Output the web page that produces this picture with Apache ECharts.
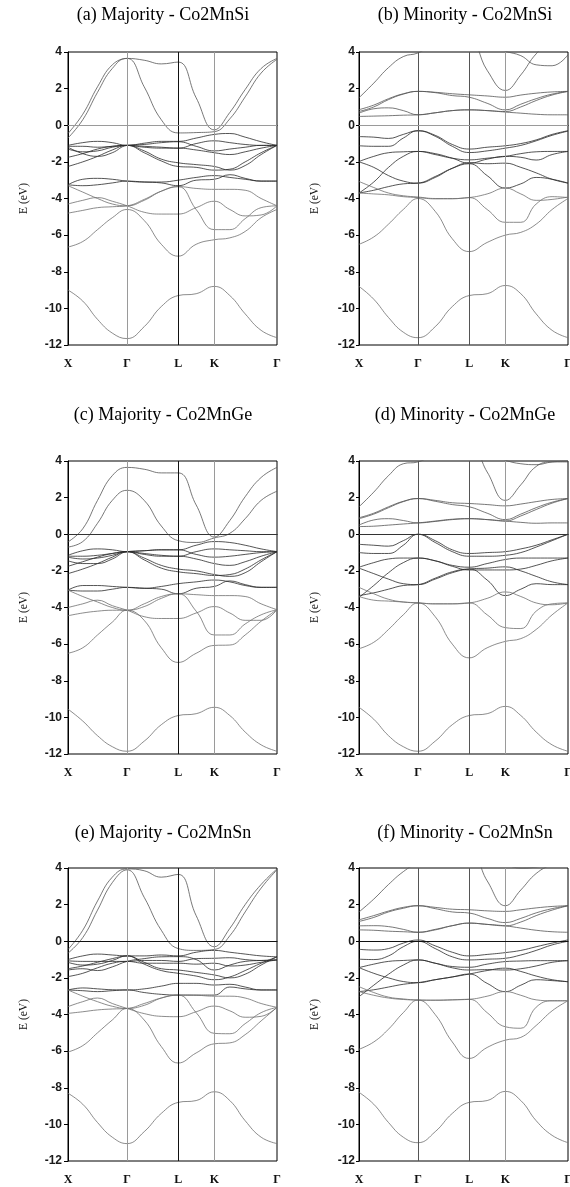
<!DOCTYPE html>
<html>
<head>
<meta charset="utf-8">
<script src="https://cdn.jsdelivr.net/npm/echarts@6/dist/echarts.min.js"></script>
<style>
  html, body { margin: 0; padding: 0; background: #fff; }
  #chart { width: 570px; height: 1187px; }
</style>
</head>
<body>
<div id="chart"></div>
<script>
// k-path sample positions (units of 2π/a): X–Γ–L–K–Γ
const kPath = [0, 0.25, 0.5, 0.75, 1, 1.29, 1.58, 1.866, 2.17, 2.478, 2.74, 3.0, 3.27, 3.539];
const kTickPos = [0, 1, 1.866, 2.478, 3.539];
const kTickLabels = ['X', 'Γ', 'L', 'K', 'Γ'];
const energyMin = -12, energyMax = 4, energyStep = 2;

// ---- Co2MnSi, majority spin (eV) ----
const siMajUpper = [
  [-0.7, 0.3, 1.8, 3.1, 3.65, 3.55, 3.35, 3.45, 1.5, -0.25, 0.7, 1.95, 3.1, 3.65],
  [-0.45, 0.6, 2.1, 3.3, 3.65, 2.1, 0.3, -0.42, -0.4, -0.35, 0.35, 1.55, 2.85, 3.6]
];
const siMajD = [
  [-1.1, -0.95, -0.88, -0.95, -1.1, -0.98, -0.88, -0.88, -0.7, -0.5, -0.45, -0.65, -0.9, -1.1],
  [-1.15, -1.15, -1.2, -1.15, -1.1, -1.15, -1.2, -1.25, -1.0, -0.85, -0.95, -1.05, -1.1, -1.1],
  [-1.3, -1.45, -1.4, -1.2, -1.1, -1.4, -1.85, -2.05, -2.15, -2.25, -2.45, -2.2, -1.6, -1.1],
  [-1.75, -1.55, -1.3, -1.15, -1.1, -1.5, -1.95, -2.25, -2.3, -2.45, -2.4, -2.0, -1.5, -1.1],
  [-2.25, -2.0, -1.7, -1.35, -1.1, -1.2, -1.25, -1.25, -1.35, -1.5, -1.6, -1.45, -1.25, -1.1],
  [-1.2, -1.55, -1.7, -1.5, -1.1, -1.05, -0.95, -0.9, -1.15, -1.4, -1.3, -1.2, -1.1, -1.1],
  [-3.25, -2.95, -2.9, -2.95, -3.05, -3.1, -3.1, -3.0, -2.85, -2.75, -2.85, -2.95, -3.05, -3.05],
  [-3.25, -3.3, -3.25, -3.15, -3.05, -3.1, -3.15, -3.3, -3.0, -2.95, -2.7, -2.9, -3.05, -3.05]
];
const siMajSP = [
  [-3.3, -3.65, -4.0, -4.3, -4.4, -4.1, -3.6, -3.35, -3.45, -3.5, -3.5, -3.55, -4.0, -4.4],
  [-4.3, -4.1, -3.95, -4.15, -4.4, -4.75, -4.85, -4.85, -4.5, -4.15, -4.6, -4.95, -4.9, -4.4],
  [-4.8, -4.65, -4.5, -4.45, -4.4, -4.05, -3.6, -3.35, -4.6, -5.7, -5.7, -5.1, -4.5, -4.4],
  [-6.65, -6.35, -5.7, -5.05, -4.6, -5.2, -6.5, -7.15, -6.5, -6.25, -6.15, -5.8, -5.05, -4.6],
  [-9.0, -9.6, -10.6, -11.35, -11.65, -11.0, -9.9, -9.3, -9.2, -8.8, -9.3, -10.3, -11.2, -11.6]
];

// ---- Co2MnSi, minority spin (eV) ----
const siMinUpper = [
  [1.5, 2.3, 3.15, 3.75, 3.95, 4.5, 4.9, 4.8, 3.0, 1.9, 2.75, 3.9, 4.6, 5.0],
  [5.0, 5.0, 5.0, 4.6, 4.3, 4.6, 5.0, 5.0, 4.5, 4.05, 3.8, 3.3, 3.25, 3.85],
  [0.85, 1.1, 1.45, 1.72, 1.85, 1.8, 1.72, 1.66, 1.6, 1.53, 1.65, 1.75, 1.82, 1.85],
  [0.75, 1.0, 1.4, 1.7, 1.85, 1.78, 1.62, 1.53, 1.2, 0.84, 1.15, 1.45, 1.7, 1.85],
  [0.66, 0.9, 0.95, 0.8, 0.57, 0.68, 0.8, 0.84, 0.8, 0.75, 1.0, 1.35, 1.65, 1.85],
  [0.48, 0.5, 0.52, 0.55, 0.57, 0.68, 0.8, 0.84, 0.8, 0.72, 0.66, 0.6, 0.57, 0.57]
];
const siMinD = [
  [-0.62, -0.65, -0.72, -0.5, -0.3, -0.55, -1.05, -1.3, -1.2, -1.12, -1.0, -0.8, -0.5, -0.3],
  [-1.12, -1.15, -1.15, -0.7, -0.3, -0.6, -1.15, -1.49, -1.4, -1.25, -1.1, -0.85, -0.55, -0.32],
  [-1.98, -1.7, -1.5, -1.45, -1.43, -1.6, -1.8, -1.89, -1.8, -1.7, -1.55, -1.45, -1.43, -1.43],
  [-2.0, -2.3, -2.75, -3.05, -3.16, -2.85, -2.35, -2.05, -2.1, -2.07, -2.3, -2.6, -2.95, -3.16],
  [-3.7, -3.1, -2.3, -1.7, -1.43, -1.55, -1.8, -2.07, -1.85, -1.7, -1.75, -1.9, -1.6, -1.43],
  [-3.7, -3.55, -3.35, -3.2, -3.16, -2.8, -2.35, -2.1, -2.75, -3.43, -3.2, -2.85, -2.95, -3.16]
];
const siMinSP = [
  [-3.07, -3.4, -3.7, -3.85, -3.92, -4.0, -4.0, -3.95, -3.75, -3.43, -3.75, -4.1, -4.05, -3.92],
  [-3.7, -3.75, -3.8, -3.9, -3.95, -4.02, -4.02, -3.95, -4.6, -5.3, -5.3, -4.3, -3.9, -3.95],
  [-6.5, -6.1, -5.4, -4.6, -4.0, -4.7, -6.2, -6.9, -6.4, -6.0, -5.85, -5.4, -4.6, -4.0],
  [-8.8, -9.5, -10.5, -11.3, -11.6, -11.0, -9.9, -9.3, -9.2, -8.75, -9.2, -10.3, -11.2, -11.6]
];

// ---- Co2MnGe, majority spin (eV) ----
const geMajUpper = [
  [-0.42, 0.3, 1.85, 3.2, 3.65, 3.55, 3.35, 3.35, 1.6, -0.15, 0.75, 2.05, 3.1, 3.65],
  [-0.7, -0.4, 0.6, 1.85, 2.4, 1.85, 0.45, -0.35, -0.45, -0.2, 0.05, 0.85, 1.85, 2.35]
];
const geMajD = [
  [-1.15, -0.9, -0.8, -0.85, -0.95, -0.9, -0.85, -0.85, -0.6, -0.4, -0.45, -0.6, -0.8, -0.95],
  [-1.2, -1.2, -1.15, -1.05, -0.95, -1.05, -1.15, -1.2, -0.95, -0.8, -0.85, -0.9, -0.95, -0.95],
  [-1.25, -1.35, -1.3, -1.15, -0.95, -1.3, -1.7, -1.9, -2.0, -2.2, -2.3, -2.1, -1.5, -0.95],
  [-1.75, -1.5, -1.25, -1.05, -0.95, -1.4, -1.85, -2.05, -2.15, -2.25, -2.2, -1.9, -1.4, -0.95],
  [-2.15, -1.9, -1.6, -1.25, -0.95, -1.1, -1.2, -1.2, -1.35, -1.6, -1.7, -1.5, -1.2, -0.95],
  [-1.45, -1.6, -1.6, -1.35, -0.95, -0.9, -0.85, -0.85, -1.1, -1.25, -1.2, -1.1, -1.0, -0.95],
  [-3.05, -2.8, -2.8, -2.85, -2.9, -2.95, -2.85, -2.7, -2.6, -2.5, -2.6, -2.8, -2.9, -2.9],
  [-3.05, -3.1, -3.1, -3.0, -2.9, -2.95, -3.0, -3.25, -2.95, -2.85, -2.55, -2.75, -2.9, -2.9]
];
const geMajSP = [
  [-3.05, -3.4, -3.7, -4.0, -4.15, -3.95, -3.5, -3.25, -3.3, -3.35, -3.35, -3.4, -3.8, -4.12],
  [-4.0, -3.8, -3.6, -3.9, -4.15, -4.5, -4.6, -4.6, -4.3, -3.95, -4.3, -4.7, -4.7, -4.12],
  [-4.45, -4.3, -4.2, -4.15, -4.15, -3.8, -3.4, -3.25, -4.2, -5.5, -5.5, -4.9, -4.4, -4.12],
  [-6.5, -6.2, -5.5, -4.8, -4.15, -4.7, -6.2, -7.0, -6.5, -6.07, -6.05, -5.5, -4.75, -4.12],
  [-9.55, -10.2, -11.0, -11.6, -11.85, -11.3, -10.4, -9.9, -9.8, -9.45, -9.9, -10.8, -11.5, -11.85]
];

// ---- Co2MnGe, minority spin (eV) ----
const geMinUpper = [
  [1.5, 2.3, 3.2, 3.85, 3.95, 4.4, 4.8, 5.0, 3.4, 1.85, 2.7, 3.7, 3.95, 3.95],
  [5.0, 5.0, 5.0, 4.6, 4.3, 4.6, 5.0, 5.0, 4.5, 4.05, 3.85, 3.8, 3.95, 4.0],
  [0.9, 1.15, 1.5, 1.8, 1.95, 1.85, 1.72, 1.68, 1.62, 1.55, 1.65, 1.78, 1.9, 1.95],
  [0.85, 1.1, 1.45, 1.78, 1.95, 1.8, 1.62, 1.5, 1.15, 0.8, 1.1, 1.45, 1.75, 1.95],
  [0.5, 0.78, 0.85, 0.75, 0.62, 0.7, 0.8, 0.85, 0.8, 0.72, 1.0, 1.35, 1.7, 1.95],
  [0.42, 0.44, 0.5, 0.56, 0.62, 0.72, 0.82, 0.85, 0.8, 0.72, 0.65, 0.6, 0.62, 0.62]
];
const geMinD = [
  [-0.55, -0.6, -0.65, -0.35, 0.0, -0.35, -0.85, -1.05, -1.0, -0.95, -0.8, -0.6, -0.3, 0.0],
  [-1.0, -1.05, -1.05, -0.6, 0.0, -0.45, -0.95, -1.2, -1.2, -1.15, -1.0, -0.7, -0.35, 0.0],
  [-1.8, -1.55, -1.35, -1.3, -1.3, -1.45, -1.7, -1.8, -1.6, -1.38, -1.3, -1.3, -1.3, -1.3],
  [-1.85, -2.15, -2.45, -2.7, -2.75, -2.45, -2.1, -1.9, -1.85, -1.78, -2.0, -2.3, -2.6, -2.75],
  [-3.45, -2.8, -2.1, -1.55, -1.3, -1.45, -1.75, -1.95, -1.95, -1.95, -1.9, -1.7, -1.45, -1.3],
  [-3.35, -3.2, -3.0, -2.8, -2.75, -2.4, -2.05, -1.9, -2.5, -3.35, -3.0, -2.7, -2.75, -2.75]
];
const geMinSP = [
  [-2.9, -3.25, -3.55, -3.7, -3.75, -3.8, -3.8, -3.75, -3.5, -3.15, -3.4, -3.75, -3.85, -3.75],
  [-3.4, -3.6, -3.65, -3.7, -3.75, -3.8, -3.8, -3.75, -4.4, -5.1, -5.15, -4.2, -3.8, -3.75],
  [-6.25, -5.9, -5.2, -4.4, -3.75, -4.5, -6.0, -6.75, -6.2, -5.85, -5.7, -5.2, -4.4, -3.75],
  [-9.45, -10.1, -11.0, -11.6, -11.85, -11.3, -10.4, -9.9, -9.8, -9.4, -9.9, -10.8, -11.5, -11.85]
];

// ---- Co2MnSn, majority spin (eV) ----
const snMajUpper = [
  [-0.45, 0.6, 2.2, 3.5, 3.95, 3.85, 3.5, 3.65, 1.4, -0.3, 0.7, 2.0, 3.1, 3.95],
  [-0.65, 0.2, 1.7, 3.2, 3.9, 2.4, 0.6, -0.4, -0.5, -0.45, 0.3, 1.6, 2.9, 3.9]
];
const snMajD = [
  [-1.0, -0.8, -0.7, -0.75, -0.8, -0.8, -0.75, -0.8, -0.6, -0.5, -0.6, -0.7, -0.8, -0.85],
  [-1.07, -1.1, -1.1, -1.1, -1.1, -1.05, -1.05, -1.1, -0.95, -0.93, -0.9, -1.0, -1.05, -1.02],
  [-1.15, -1.3, -1.25, -1.05, -0.8, -1.15, -1.5, -1.57, -1.7, -1.84, -2.0, -1.8, -1.3, -0.85],
  [-1.5, -1.35, -1.15, -0.95, -0.8, -1.25, -1.6, -1.75, -1.9, -2.1, -1.95, -1.6, -1.2, -0.85],
  [-1.93, -1.75, -1.45, -1.2, -1.1, -1.2, -1.2, -1.2, -1.25, -1.2, -1.35, -1.3, -1.15, -1.02],
  [-1.57, -1.5, -1.6, -1.4, -1.1, -0.95, -0.85, -0.84, -1.0, -1.57, -1.3, -1.1, -1.05, -1.02],
  [-2.66, -2.55, -2.6, -2.65, -2.66, -2.6, -2.45, -2.3, -2.3, -2.39, -2.35, -2.5, -2.66, -2.66],
  [-2.66, -2.7, -2.75, -2.7, -2.66, -2.8, -2.9, -2.94, -2.94, -2.94, -2.5, -2.6, -2.66, -2.66]
];
const snMajSP = [
  [-2.66, -3.0, -3.3, -3.55, -3.67, -3.5, -3.1, -2.94, -2.95, -3.0, -3.0, -3.1, -3.4, -3.61],
  [-3.57, -3.3, -3.1, -3.4, -3.67, -3.95, -4.1, -4.12, -3.85, -3.54, -3.8, -4.15, -4.1, -3.61],
  [-3.94, -3.85, -3.75, -3.7, -3.67, -3.4, -3.1, -2.94, -3.9, -5.03, -5.05, -4.5, -3.9, -3.61],
  [-6.05, -5.7, -5.0, -4.3, -3.67, -4.3, -5.75, -6.65, -6.1, -5.6, -5.55, -5.1, -4.35, -3.61],
  [-8.3, -8.9, -9.9, -10.7, -11.05, -10.4, -9.4, -8.8, -8.7, -8.22, -8.7, -9.8, -10.7, -11.05]
];

// ---- Co2MnSn, minority spin (eV) ----
const snMinUpper = [
  [1.6, 2.3, 3.1, 3.8, 4.3, 4.7, 5.0, 5.0, 3.3, 1.94, 2.8, 3.7, 4.2, 4.5],
  [5.0, 5.0, 5.0, 5.0, 5.0, 5.0, 5.0, 5.0, 4.6, 4.2, 4.0, 4.05, 4.3, 4.6],
  [1.17, 1.4, 1.65, 1.85, 1.94, 1.85, 1.75, 1.72, 1.66, 1.63, 1.72, 1.82, 1.9, 1.94],
  [1.08, 1.3, 1.6, 1.8, 1.94, 1.78, 1.6, 1.54, 1.25, 1.02, 1.25, 1.55, 1.78, 1.94],
  [0.84, 0.85, 0.8, 0.65, 0.49, 0.65, 0.85, 0.99, 0.92, 0.84, 1.05, 1.4, 1.7, 1.94],
  [0.62, 0.6, 0.55, 0.52, 0.49, 0.62, 0.85, 0.99, 0.92, 0.84, 0.72, 0.6, 0.52, 0.49]
];
const snMinD = [
  [-0.44, -0.48, -0.4, -0.1, 0.07, -0.25, -0.6, -0.8, -0.72, -0.62, -0.5, -0.3, -0.1, 0.07],
  [-0.98, -1.0, -0.8, -0.3, 0.0, -0.4, -0.85, -1.02, -0.98, -0.93, -0.75, -0.5, -0.2, 0.0],
  [-1.44, -1.25, -1.1, -1.05, -1.02, -1.2, -1.38, -1.42, -1.25, -1.11, -1.08, -1.06, -1.06, -1.06],
  [-1.44, -1.75, -2.0, -2.2, -2.26, -2.1, -1.95, -1.79, -1.6, -1.47, -1.65, -1.9, -2.1, -2.21],
  [-3.03, -2.4, -1.8, -1.3, -1.02, -1.2, -1.45, -1.57, -1.55, -1.57, -1.5, -1.35, -1.15, -1.06],
  [-2.75, -2.65, -2.5, -2.35, -2.26, -2.1, -1.95, -1.79, -2.3, -2.75, -2.4, -2.1, -2.15, -2.21]
];
const snMinSP = [
  [-2.48, -2.8, -3.05, -3.15, -3.21, -3.22, -3.2, -3.17, -3.0, -2.75, -2.95, -3.2, -3.25, -3.25],
  [-2.75, -2.95, -3.1, -3.18, -3.21, -3.22, -3.2, -3.17, -3.9, -4.67, -4.75, -3.6, -3.25, -3.25],
  [-5.9, -5.5, -4.8, -3.9, -3.21, -4.0, -5.5, -6.4, -5.8, -5.4, -5.25, -4.6, -3.8, -3.25],
  [-8.25, -8.9, -9.9, -10.7, -11.0, -10.4, -9.4, -8.8, -8.7, -8.2, -8.7, -9.8, -10.6, -11.0]
];

// ---- panel layout ----
const colLeft = [68, 359];
const colWidth = 209;
const rowTop = [52, 461, 868];
const rowHeight = 293;
const titleCenterX = [163, 465];
const titleCenterY = [15, 415, 833];
const labelMargin = [6, 4];
const tickLength = [4, 3];

const panels = [
  { title: '(a) Majority - Co2MnSi', groups: [siMajUpper, siMajD, siMajSP], row: 0, col: 0,
    vColors: ['#9a9a9a', '#111', '#9a9a9a'], zeroColor: '#9a9a9a' },
  { title: '(b) Minority - Co2MnSi', groups: [siMinUpper, siMinD, siMinSP], row: 0, col: 1,
    vColors: ['#555', '#555', '#9a9a9a'], zeroColor: '#9a9a9a' },
  { title: '(c) Majority - Co2MnGe', groups: [geMajUpper, geMajD, geMajSP], row: 1, col: 0,
    vColors: ['#9a9a9a', '#111', '#9a9a9a'], zeroColor: '#333' },
  { title: '(d) Minority - Co2MnGe', groups: [geMinUpper, geMinD, geMinSP], row: 1, col: 1,
    vColors: ['#555', '#555', '#9a9a9a'], zeroColor: '#333' },
  { title: '(e) Majority - Co2MnSn', groups: [snMajUpper, snMajD, snMajSP], row: 2, col: 0,
    vColors: ['#9a9a9a', '#111', '#9a9a9a'], zeroColor: '#111' },
  { title: '(f) Minority - Co2MnSn', groups: [snMinUpper, snMinD, snMinSP], row: 2, col: 1,
    vColors: ['#555', '#555', '#9a9a9a'], zeroColor: '#111' }
];
const groupColors = ['#555', '#2a2a2a', '#6e6e6e'];

const grids = [], xAxes = [], yAxes = [], series = [], graphics = [];

panels.forEach((p, i) => {
  grids.push({
    left: colLeft[p.col], top: rowTop[p.row], width: colWidth, height: rowHeight,
    outerBoundsMode: 'none',
    show: true, borderColor: '#000', borderWidth: 1, backgroundColor: 'transparent'
  });
  xAxes.push({
    type: 'value', gridIndex: i, min: kTickPos[0], max: kTickPos[kTickPos.length - 1],
    axisLine: { show: true, lineStyle: { color: '#000', width: 1 } },
    axisTick: { show: false },
    splitLine: { show: false },
    axisLabel: {
      customValues: kTickPos,
      formatter: v => kTickLabels[kTickPos.indexOf(v)],
      fontFamily: 'Liberation Serif', fontSize: 12, fontWeight: 'bold', color: '#111', margin: 13
    }
  });
  yAxes.push({
    type: 'value', gridIndex: i, min: energyMin, max: energyMax, interval: energyStep,
    axisLine: { show: true, lineStyle: { color: '#000', width: 1 } },
    axisTick: { show: true, inside: false, length: tickLength[p.col], lineStyle: { color: '#000' } },
    splitLine: { show: false },
    axisLabel: {
      fontFamily: 'Liberation Sans', fontSize: 12, fontWeight: 'bold', color: '#1a1a1a',
      margin: labelMargin[p.col]
    },
    name: 'E (eV)', nameLocation: 'middle', nameGap: 38, nameRotate: 90,
    nameTextStyle: { fontFamily: 'Liberation Serif', fontSize: 11.5, color: '#111' }
  });
  graphics.push({
    type: 'text', x: titleCenterX[p.col], y: titleCenterY[p.row], silent: true,
    style: {
      text: p.title, fill: '#000', align: 'center', verticalAlign: 'middle',
      font: '18px "Liberation Serif"'
    }
  });

  let first = true;
  p.groups.forEach((group, gi) => {
    group.forEach(band => {
      const s = {
        type: 'line', xAxisIndex: i, yAxisIndex: i,
        data: kPath.map((k, j) => [k, band[j]]),
        smooth: 0.45, showSymbol: false, clip: true, silent: true, animation: false,
        lineStyle: { color: groupColors[gi], width: 0.8 }
      };
      if (first) {
        s.markLine = {
          silent: true, animation: false, symbol: ['none', 'none'], label: { show: false },
          data: [
            { xAxis: kTickPos[1], lineStyle: { color: p.vColors[0], type: 'solid', width: 1 } },
            { xAxis: kTickPos[2], lineStyle: { color: p.vColors[1], type: 'solid', width: 1 } },
            { xAxis: kTickPos[3], lineStyle: { color: p.vColors[2], type: 'solid', width: 1 } },
            { yAxis: 0, lineStyle: { color: p.zeroColor, type: 'solid', width: 1 } }
          ]
        };
        first = false;
      }
      series.push(s);
    });
  });
});

const chart = echarts.init(document.getElementById('chart'), null, { renderer: 'canvas' });
chart.setOption({
  animation: false,
  backgroundColor: '#fff',
  grid: grids, xAxis: xAxes, yAxis: yAxes, series: series, graphic: graphics
});
</script>
</body>
</html>
